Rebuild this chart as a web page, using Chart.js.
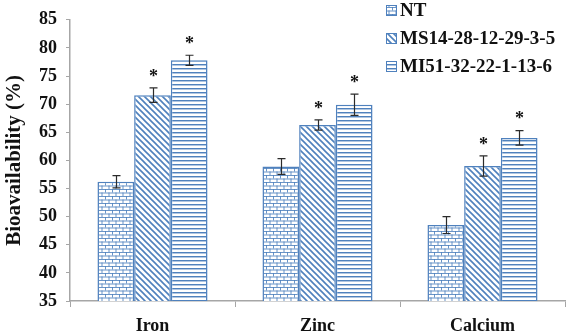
<!DOCTYPE html>
<html>
<head>
<meta charset="utf-8">
<script src="https://cdn.jsdelivr.net/npm/chart.js@4.4.1/dist/chart.umd.min.js"></script>
<style>
  body { margin: 0; background: #fff; }
  canvas { display: block; }
</style>
</head>
<body>
<canvas id="bio" width="566" height="331"></canvas>
<script>
// data ------------------------------------------->
const categories = ['Iron', 'Zinc', 'Calcium']
const seriesNames = ['NT', 'MS14-28-12-29-3-5', 'MI51-32-22-1-13-6']

const ntValues = [56.2, 58.9, 48.5]
const ntErrors = [1.1, 1.4, 1.5]
const msValues = [71.6, 66.3, 59.0]
const msErrors = [1.3, 0.9, 1.8]
const miValues = [77.8, 69.9, 64.0]
const miErrors = [0.9, 1.9, 1.3]

// * = significant vs NT
const ntStars = [false, false, false]
const msStars = [true, true, true]
const miStars = [true, true, true]

const yMin = 35
const yMax = 85
const yStep = 5

// look ------------------------------------------->
const blue = '#4f81bd'
const serif = '"Liberation Serif", "Times New Roman", serif'

// patterns
const makeTile = (w, h, draw) => {
    let c = document.createElement('canvas')
    c.width = w
    c.height = h
    let g = c.getContext('2d')
    g.fillStyle = '#fff'
    g.fillRect(0, 0, w, h)
    draw(g)
    return document.getElementById('bio').getContext('2d').createPattern(c, 'repeat')
}

// bricks
const brick = makeTile(7, 7, g => {
    g.fillStyle = blue
    g.globalAlpha = 0.85
    g.fillRect(0, 0, 7, 1)
    g.fillRect(0, 3.5, 7, 1)
    g.fillRect(0, 0, 1, 3.5)
    g.fillRect(3.5, 3.5, 1, 3.5)
})

// downward diagonal
const diag = makeTile(6, 6, g => {
    g.strokeStyle = blue
    g.lineWidth = 1.6
    g.beginPath()
    g.moveTo(-1, -1); g.lineTo(7, 7)
    g.moveTo(-4, 2); g.lineTo(4, 10)
    g.moveTo(2, -4); g.lineTo(10, 4)
    g.stroke()
})

// horizontal lines
const horiz = makeTile(4, 4, g => {
    g.fillStyle = blue
    g.fillRect(0, 0, 4, 1)
    g.globalAlpha = 0.45
    g.fillRect(0, 1, 4, 1)
})

const fills = [brick, diag, horiz]
const allValues = [ntValues, msValues, miValues]
const allErrors = [ntErrors, msErrors, miErrors]
const allStars = [ntStars, msStars, miStars]

// error bars + stars ----------------------------->
const errorBars = {
    id: 'errorBars',
    afterDatasetsDraw(chart) {
        let ctx = chart.ctx
        let y = chart.scales.y
        ctx.save()
        ctx.strokeStyle = '#2b2b2b'
        ctx.lineWidth = 1.2
        ctx.fillStyle = '#111'
        ctx.font = 'bold 18px ' + serif
        ctx.textAlign = 'center'
        ctx.textBaseline = 'middle'
        chart.data.datasets.forEach((ds, i) => {
            chart.getDatasetMeta(i).data.forEach((bar, j) => {
                let v = allValues[i][j]
                let e = allErrors[i][j]
                let top = y.getPixelForValue(v + e)
                let bot = y.getPixelForValue(v - e)
                let x = Math.round(bar.x) + 0.5
                ctx.beginPath()
                ctx.moveTo(x, top); ctx.lineTo(x, bot)
                ctx.moveTo(x - 4, top); ctx.lineTo(x + 4, top)
                ctx.moveTo(x - 4, bot); ctx.lineTo(x + 4, bot)
                ctx.stroke()
                if (allStars[i][j]) ctx.fillText('*', x, top - 11)
            })
        })
        ctx.restore()
    }
}

// legend drawn inside plot, top right
const boxLegend = {
    id: 'boxLegend',
    afterDraw(chart) {
        let ctx = chart.ctx
        ctx.save()
        ctx.font = 'bold 19px ' + serif
        ctx.textBaseline = 'middle'
        ctx.textAlign = 'left'
        chart.data.datasets.forEach((ds, i) => {
            let cy = 10 + i * 28
            ctx.fillStyle = fills[i]
            ctx.fillRect(386, cy - 5, 11, 11)
            ctx.strokeStyle = blue
            ctx.lineWidth = 1
            ctx.strokeRect(386.5, cy - 4.5, 10, 10)
            ctx.fillStyle = '#111'
            ctx.fillText(ds.label, 400, cy + 1)
        })
        ctx.restore()
    }
}

// chart ------------------------------------------>
let chart = new Chart(document.getElementById('bio'), {
    type: 'bar',
    data: {
        labels: categories,
        datasets: seriesNames.map((name, i) => ({
            label: name,
            data: allValues[i],
            backgroundColor: fills[i],
            borderColor: blue,
            borderWidth: 1.5,
            categoryPercentage: 0.667,
            barPercentage: 1
        }))
    },
    options: {
        responsive: false,
        animation: false,
        devicePixelRatio: 1,
        layout: { padding: { top: 12, right: 1, left: 0, bottom: 0 } },
        plugins: {
            legend: { display: false },
            tooltip: { enabled: false }
        },
        scales: {
            x: {
                grid: { display: true, drawOnChartArea: false, drawTicks: true, tickLength: 6, color: '#a6a6a6', offset: true },
                border: { color: '#a6a6a6', width: 1.5 },
                ticks: { color: '#111', font: { family: serif, size: 18, weight: 'bold' }, padding: 9 },
                afterFit: s => { s.height = 30 }
            },
            y: {
                min: yMin,
                max: yMax,
                grid: { display: true, drawOnChartArea: false, drawTicks: true, tickLength: 4, color: '#a6a6a6' },
                border: { color: '#a6a6a6', width: 1.5 },
                ticks: { stepSize: yStep, color: '#111', font: { family: serif, size: 18, weight: 'bold' }, padding: 9 },
                title: {
                    display: true,
                    text: 'Bioavailability (%)',
                    color: '#111',
                    font: { family: serif, size: 21, weight: 'bold' },
                    padding: { top: 2, bottom: 0 }
                },
                afterFit: s => { s.width = 70 }
            }
        }
    },
    plugins: [errorBars, boxLegend]
})
</script>
</body>
</html>
